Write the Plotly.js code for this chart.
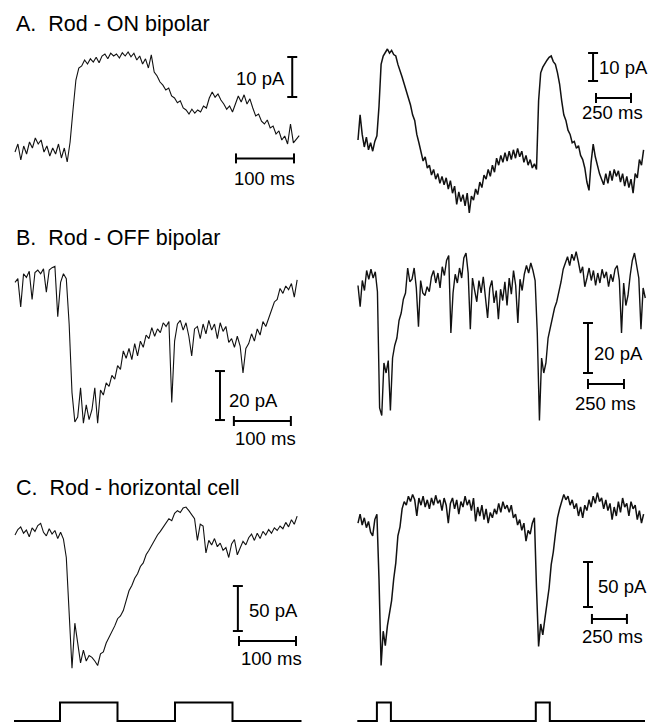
<!DOCTYPE html>
<html>
<head>
<meta charset="utf-8">
<script src="https://cdn.plot.ly/plotly-3.0.1.min.js"></script>
<style>
html,body{margin:0;padding:0;background:#ffffff;}
#chart{width:652px;height:722px;}
</style>
</head>
<body>
<div id="chart"></div>
<script>
// ---------------- DATA ----------------
// Panel titles
const panelTitles = ['A.\u00a0\u00a0Rod - ON bipolar', 'B.\u00a0\u00a0Rod - OFF bipolar', 'C.\u00a0\u00a0Rod - horizontal cell'];

// Sampling intervals of the traces (ms per sample)
const shortTraceDt = 5;    // left column traces
const longTraceDt = 15;    // right column traces

// A. Rod - ON bipolar, single flash (pA)
const onBipolarShort = [-0.5,1.5,-2.5,1,-1,2,0.5,3,1.5,2.5,-0.5,1,-1.5,0.5,-1,1.5,-2,0.5,-3,2,
  10,17.5,20.5,21,22.5,21.5,22.8,22,23.2,21.8,23.5,24,22.8,24.2,23.5,24,23,24.3,23.5,24.5,
  23.3,24.2,22.5,23.5,21.5,22.8,20.5,23.8,19.5,18.5,17,16.2,15,15.5,13.5,13,11.8,12.3,10.5,10,
  9,10.2,9.2,10,9.5,11,10.5,13,14.5,13.2,14,12.5,11.5,10.2,11,9.5,11.5,13.5,12,13.8,
  11.5,12.8,10.5,8.5,9,7.2,6.5,7.5,5.5,6,4,4.8,2.5,3.5,1.5,6.5,1.8,2.8,3.6];
// A. Rod - ON bipolar, pulse pair (pA)
const onBipolarLong = [0,9,2,-2.5,1,-3.5,-1,-4,-0.5,1.5,12,27,30,31.5,32.5,31,32,30.5,30,27,
  25,22.5,20,17,15,12.5,9,7,2,-1,-4,-7.5,-6,-10,-9,-12.5,-10.5,-14,-12,-15.5,
  -13,-16,-13.5,-17.5,-14.5,-19,-16.5,-23,-18.5,-22,-19.5,-23.5,-19,-26,-20,-21.5,-17.5,-19.5,-15,-17,
  -12.5,-14,-10.5,-13,-9,-11.5,-6.5,-9,-5.5,-8,-4.5,-7.5,-4,-7,-3.5,-6.5,-3,-6,-4,-8,
  -5.5,-9,-7,-10,-8.5,-10.5,14,24,26,27.5,28.5,29.5,30,28,27,24,20,14,9,7,
  3.5,2,-1,-0.5,-3,-2,-5.5,-7,-10,-15,-18,-8,-1.5,-6,-9.5,-12,-14,-16,-12,-15.5,
  -11,-14.5,-10.5,-13,-11,-15,-12,-16.5,-13,-17,-14,-19,-12,-13.5,-7,-9,-3.5];

// B. Rod - OFF bipolar (pA)
const offBipolarShort = [-3,-1.5,-13,0.5,-1,1.5,-10,1,2,0.5,2.5,-7,2,3,3.5,-17,-3,0.5,-1.5,-20,
  -48,-60,-58,-46,-60.5,-53,-59,-55,-46,-60.5,-47,-49,-44,-45.5,-41,-42.5,-37,-38.5,-31,-34,
  -30,-34.5,-28,-33,-27,-29.5,-24.5,-26,-21.5,-25,-22,-23.5,-19.5,-21,-19,-52,-27,-20,-18.5,-22.5,
  -19.5,-25,-33,-22,-21,-26,-20,-24,-18.5,-22.5,-20,-26,-19.5,-23,-21,-27.5,-26,-29.5,-25,-29,
  -40,-30,-28,-24,-27,-22,-24.5,-19,-21,-17.5,-14,-11,-10,-5.5,-7.5,-4.5,-6,-3.5,-9,-2];
const offBipolarLong = [-1,-9.5,1,-3,5,1.5,5.5,2,4.5,-3.5,-50,-53,-32,-36,-31,-51,-30,-25,-22,-15,
  -12,-6.5,-4,6,0.5,1.5,6,-2,-17.5,1,-4,-5,-1.5,-3.5,2.5,5,0,4,-2,6.5,
  3,9,11,-20,-4,3.5,0,6,2,10,12,4,-18.5,2,-3,-7.5,1,-4,2.5,-6,
  -14,-2,1,-8,-3,-14.5,-2.5,-7,0.5,-9,2,-4.5,5,-1,-16,1.5,-3,3.5,7,4,
  8,5,1,-20,-55,-30,-36,-32,-22,-18,-14,-10,-7.5,-4,0.5,5.5,8,10.5,7,11.5,
  9,12.5,8.5,4,6.5,-1.5,2,6,1,5,-1,4,0,5.5,2,4.5,-1.5,3.5,0.5,5.5,
  7,1,-20,0,-9,-5,3,9,12,6,2,-18.5,-2,-6];

// C. Rod - horizontal cell (pA)
const horizontalShort = [0,6,9,2,5.5,-2,8,4,10.5,13,3,-1,7,1,5,-4,3,-4.5,-25,-90,
  -148,-98,-120,-142,-128,-140,-134,-136,-140,-145,-132,-130,-120,-114,-108,-101,-93,-90,-84,-74,
  -62,-56,-48,-43,-35,-31,-22,-17,-11,-5,0,4,9,13,18,16,24,27,25,30,
  31,27,22,18,-6,12,10,-20,-6,-11,-4,-13,-9,-17,-14,-25,-10,-5,-22,-14,
  -7,-11,-3,1,-6,2,-4,4,0,6,2,8,5,10,7,14,9,17,12,21];
const horizontalLong = [2,12,0,8,-3,4,-8,-12,6,12,-60,-156,-118,-134,-112,-100,-84,-60,-42,-12,
  -2,18,26,22,32,26,34,28,10,30,22,32,20,28,18,30,22,33,24,28,
  16,30,22,2,24,30,18,28,12,26,20,32,22,28,16,30,4,20,10,22,
  6,18,2,14,8,18,12,24,14,26,18,22,14,22,8,12,0,6,-6,2,
  -18,-6,-10,2,8,-70,-135,-110,-122,-104,-88,-70,-44,-30,-10,8,18,26,34,28,
  32,22,28,18,24,10,20,8,22,16,28,20,32,24,36,26,30,18,28,16,
  24,6,20,10,26,14,30,20,24,10,26,18,22,6,16,2,12];

// Light stimulus monitor (step times in ms, level 0 = off, 1 = on)
const stimShortTimes = [0, 80, 180, 280, 380, 500];
const stimShortLevels = [0, 1, 0, 1, 0, 0];
const stimLongTimes = [0, 140, 240, 1275, 1375, 2055];
const stimLongLevels = [0, 1, 0, 1, 0, 0];

// Scale bars (values)
const scaleBarPA = [10, 10, 20, 20, 50, 50];
const scaleBarMs = [100, 250, 100, 250, 100, 250];

// ---------------- LAYOUT / STYLE ----------------
const W = 652, H = 722;
const FONT = '"Liberation Sans", Arial, Helvetica, sans-serif';
// ox/oy: pixel of time 0 / current 0; sx/sy: pixels per ms / per pA; box: [left,right,top,bottom] px
const geom = [
  {ox:15,    sx:0.58,  oy:150, sy:4.0,  box:[5,310,35,220]},
  {ox:358,   sx:0.14,  oy:140, sy:2.8,  box:[340,652,35,220]},
  {ox:15,    sx:0.57,  oy:275, sy:2.45, box:[5,310,250,455]},
  {ox:358,   sx:0.144, oy:283, sy:2.5,  box:[340,652,250,455]},
  {ox:15,    sx:0.57,  oy:535, sy:0.9,  box:[5,310,470,690]},
  {ox:358,   sx:0.14,  oy:525, sy:0.9,  box:[340,652,470,690]},
  {ox:14,    sx:0.575, oy:721, sy:18.5, box:[5,310,695,722]},
  {ox:357.3, sx:0.14,  oy:721, sy:18.5, box:[340,652,695,722]}
];
const traceWidths = [1.1, 1.5, 1.1, 1.4, 1.1, 1.5];
// scale bar placement (style), in each panel's data units, plus label pixel offsets
const barPos = [
  {vx:478,  vy0:13.25, hx0:381,  hy:-2.1,  vSide:'left',  vdx:-5, vdy:-2,   hdx:0,   hdy:-20},
  {vx:1679, vy0:21.07, hx0:1700, hy:15,    vSide:'right', vdx:4,  vdy:-1,   hdx:-1,  hdy:-15},
  {vx:359.6,vy0:-59.2, hx0:384,  hy:-59.6, vSide:'right', vdx:7,  vdy:-4.5, hdx:3,   hdy:-17},
  {vx:1597, vy0:-36,   hx0:1597, hy:-40.4, vSide:'right', vdx:4,  vdy:-5,   hdx:0,   hdy:-19},
  {vx:391,  vy0:-106.7,hx0:393,  hy:-117.8,vSide:'right', vdx:9,  vdy:-1.5, hdx:3.5, hdy:-17},
  {vx:1643, vy0:-91.1, hx0:1671, hy:-104.4,vSide:'right', vdx:8,  vdy:-2.5, hdx:3.5, hdy:-18}
];
const titleY = [24, 237.5, 488];

const layout = {
  width: W, height: H,
  margin: {l:0, r:0, t:0, b:0, pad:0},
  paper_bgcolor: '#ffffff', plot_bgcolor: 'rgba(0,0,0,0)',
  showlegend: false,
  font: {family: FONT, color: '#000', size: 18},
  shapes: [], annotations: []
};

function axName(i) { return i === 0 ? '' : String(i + 1); }
geom.forEach((g, i) => {
  const [l, r, t, b] = g.box;
  const n = axName(i);
  layout['xaxis' + n] = {domain:[l / W, r / W], range:[(l - g.ox) / g.sx, (r - g.ox) / g.sx],
    visible:false, fixedrange:true, anchor:'y' + n};
  layout['yaxis' + n] = {domain:[1 - b / H, 1 - t / H], range:[(g.oy - b) / g.sy, (g.oy - t) / g.sy],
    visible:false, fixedrange:true, anchor:'x' + n};
});

const traceSets = [
  [onBipolarShort, shortTraceDt], [onBipolarLong, longTraceDt],
  [offBipolarShort, shortTraceDt], [offBipolarLong, longTraceDt],
  [horizontalShort, shortTraceDt], [horizontalLong, longTraceDt]
];
const data = traceSets.map(([vals, dt], i) => ({
  type:'scatter', mode:'lines',
  x: vals.map((_, k) => k * dt), y: vals,
  xaxis:'x' + axName(i), yaxis:'y' + axName(i),
  line:{color:'#111111', width:traceWidths[i]}, hoverinfo:'skip', cliponaxis:false
}));
[[stimShortTimes, stimShortLevels], [stimLongTimes, stimLongLevels]].forEach(([t, v], j) => {
  const i = 6 + j;
  data.push({type:'scatter', mode:'lines', x:t, y:v, xaxis:'x' + axName(i), yaxis:'y' + axName(i),
    line:{color:'#000', width:2, shape:'hv'}, hoverinfo:'skip', cliponaxis:false});
});

const barLine = {color:'#000', width:2};
barPos.forEach((p, i) => {
  const xr = 'x' + axName(i), yr = 'y' + axName(i);
  const vy1 = p.vy0 + scaleBarPA[i];
  const hx1 = p.hx0 + scaleBarMs[i];
  // vertical bar + caps
  layout.shapes.push({type:'line', xref:xr, yref:yr, x0:p.vx, x1:p.vx, y0:p.vy0, y1:vy1, line:barLine});
  [p.vy0, vy1].forEach(yy => layout.shapes.push({type:'line', xref:xr, yref:yr, xsizemode:'pixel',
    xanchor:p.vx, x0:-5, x1:5, y0:yy, y1:yy, line:barLine}));
  // horizontal bar + caps
  layout.shapes.push({type:'line', xref:xr, yref:yr, x0:p.hx0, x1:hx1, y0:p.hy, y1:p.hy, line:barLine});
  [p.hx0, hx1].forEach(xx => layout.shapes.push({type:'line', xref:xr, yref:yr, ysizemode:'pixel',
    yanchor:p.hy, y0:-5, y1:5, x0:xx, x1:xx, line:barLine}));
  // labels
  layout.annotations.push({xref:xr, yref:yr, x:p.vx, y:(p.vy0 + vy1) / 2, text:scaleBarPA[i] + ' pA',
    showarrow:false, xanchor:p.vSide === 'left' ? 'right' : 'left', yanchor:'middle',
    xshift:p.vdx, yshift:p.vdy, font:{family:FONT, size:18.5, color:'#000'}});
  layout.annotations.push({xref:xr, yref:yr, x:(p.hx0 + hx1) / 2, y:p.hy, text:scaleBarMs[i] + ' ms',
    showarrow:false, xanchor:'center', yanchor:'middle',
    xshift:p.hdx, yshift:p.hdy, font:{family:FONT, size:18.5, color:'#000'}});
});

panelTitles.forEach((txt, i) => {
  layout.annotations.push({xref:'paper', yref:'paper', x:14 / W, y:1 - titleY[i] / H, text:txt,
    showarrow:false, xanchor:'left', yanchor:'middle', font:{family:FONT, size:21.5, color:'#000'}});
});

Plotly.newPlot('chart', data, layout, {staticPlot:true, displayModeBar:false});
</script>
</body>
</html>
